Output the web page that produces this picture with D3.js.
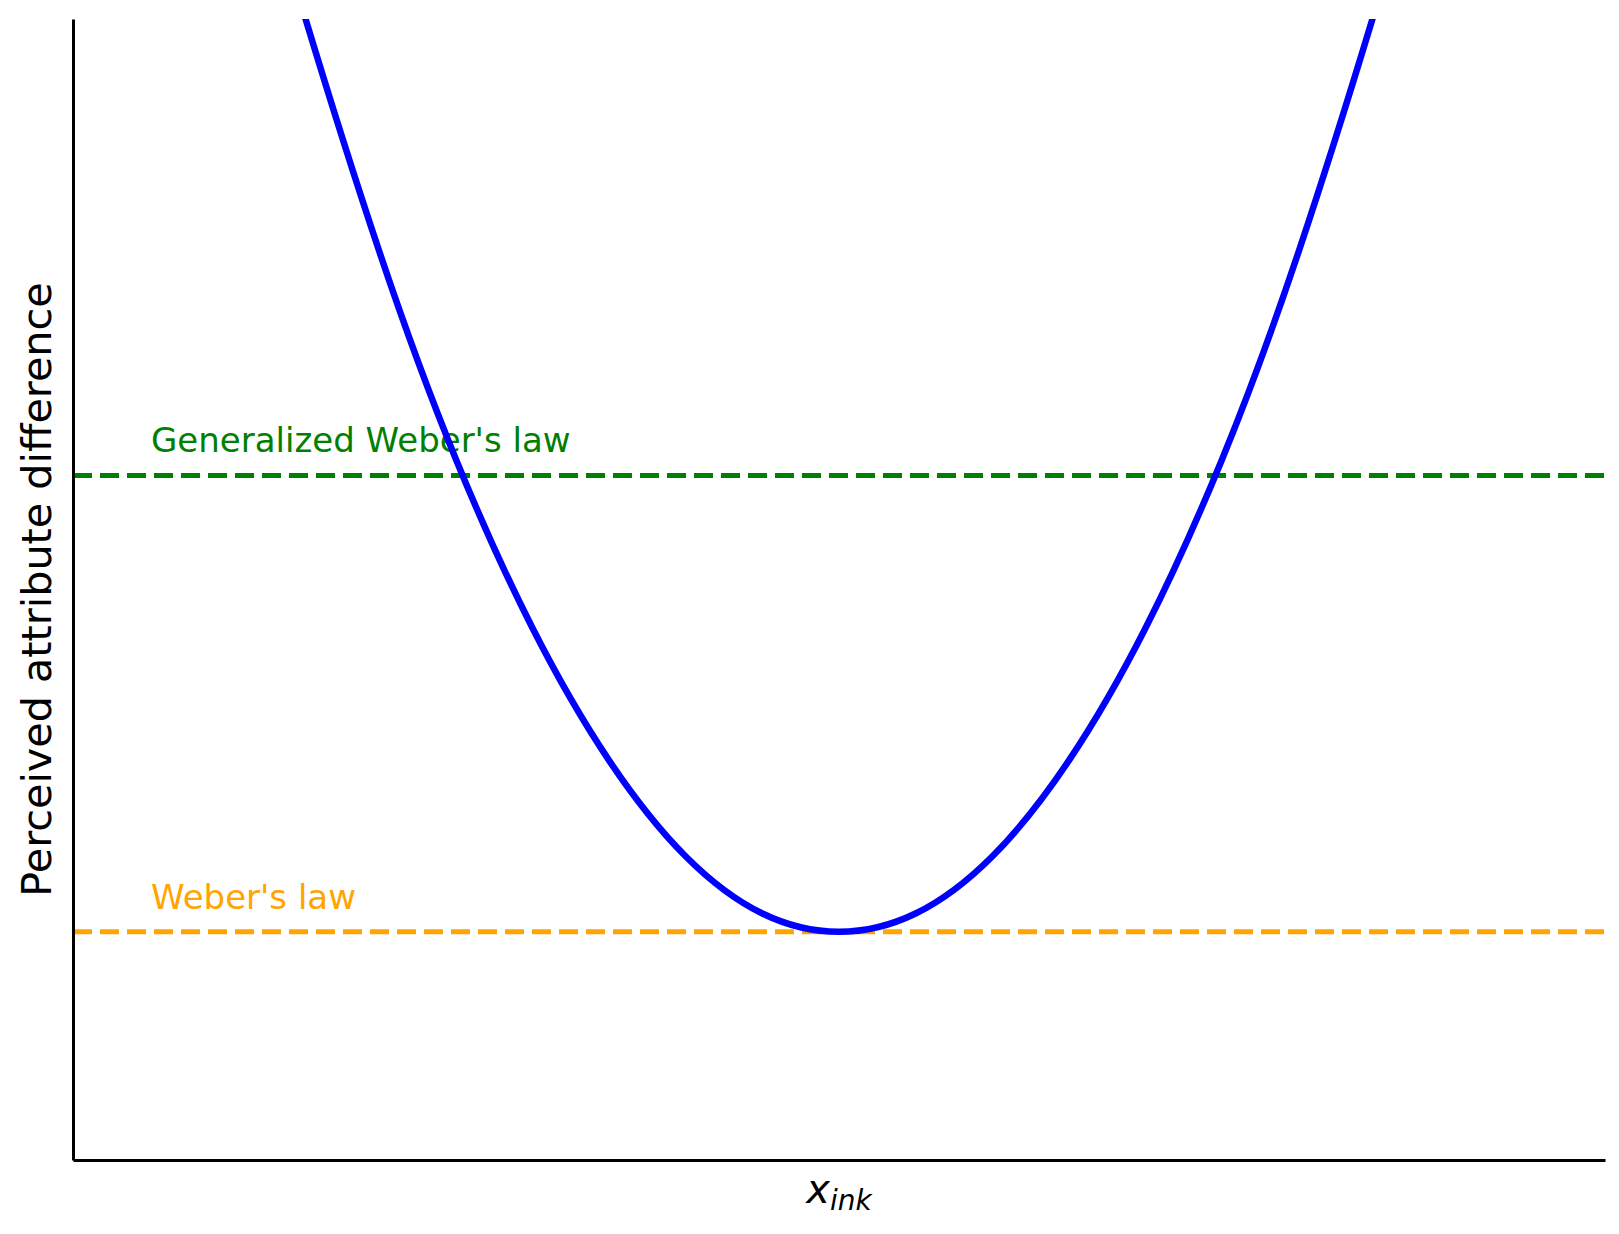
<!DOCTYPE html>
<html>
<head>
<meta charset="utf-8">
<script src="https://cdn.jsdelivr.net/npm/d3@7"></script>
<style>
  body { margin: 0; background: #fff; }
  text { font-family: "DejaVu Sans", sans-serif; }
</style>
</head>
<body>
<svg></svg>
<script>
// curve (x in 0..10, y in 0..5)
let curveX = [ 1.25, 1.5, 2, 2.5, 3, 3.5, 4, 4.5, 5, 5.5, 6, 6.5, 7, 7.5, 8, 8.5, 8.75 ]
let curveY = [ 5.62, 5.04, 3.98, 3.07, 2.33, 1.75, 1.33, 1.08, 1.00, 1.08, 1.33, 1.75, 2.33, 3.07, 3.98, 5.04, 5.62 ]

let refNames = [ 'Generalized Weber\'s law', 'Weber\'s law' ]
let refValues = [ 3, 1 ]
let refColors = [ 'green', 'orange' ]

let width = 1619
let height = 1234

const xScale =
d3.scaleLinear()
  .domain( [ 0, 10 ] )
  .range( [ 73, 1605 ] )

const yScale =
d3.scaleLinear()
  .domain( [ 0, 5 ] )
  .range( [ 1160, 19 ] )

let chart =
d3.select( 'svg' )
  .attr( 'width', width )
  .attr( 'height', height )

chart.append( 'clipPath' )
  .attr( 'id', 'plot' )
  .append( 'rect' )
  .attr( 'x', xScale( 0 ) )
  .attr( 'y', yScale( 5 ) )
  .attr( 'width', xScale( 10 ) - xScale( 0 ) )
  .attr( 'height', yScale( 0 ) - yScale( 5 ) )

// reference lines
chart.selectAll( 'line.ref' )
  .data( refValues )
  .enter()
  .append( 'line' )
  .attr( 'class', 'ref' )
  .attr( 'x1', xScale( 0 ) )
  .attr( 'x2', xScale( 10 ) )
  .attr( 'y1', d => yScale( d ) )
  .attr( 'y2', d => yScale( d ) )
  .attr( 'stroke', ( d, i ) => refColors[ i ] )
  .attr( 'stroke-width', 5 )
  .attr( 'stroke-dasharray', '19,8' )

chart.selectAll( 'text.ref' )
  .data( refValues )
  .enter()
  .append( 'text' )
  .attr( 'class', 'ref' )
  .attr( 'x', 151 )
  .attr( 'y', d => yScale( d ) - 23 )
  .attr( 'fill', ( d, i ) => refColors[ i ] )
  .attr( 'font-size', 34 )
  .text( ( d, i ) => refNames[ i ] )

// the curve
let line =
d3.line()
  .x( d => xScale( d[ 0 ] ) )
  .y( d => yScale( d[ 1 ] ) )
  .curve( d3.curveNatural )

chart.append( 'path' )
  .datum( curveX.map( ( x, i ) => [ x, curveY[ i ] ] ) )
  .attr( 'clip-path', 'url(#plot)' )
  .attr( 'fill', 'none' )
  .attr( 'stroke', 'blue' )
  .attr( 'stroke-width', 6.5 )
  .attr( 'd', line )

// axes, spines only
chart.append( 'g' )
  .attr( 'transform', `translate(0,${ yScale( 0 ) })` )
  .call( d3.axisBottom( xScale ).ticks( 0 ).tickSizeOuter( 0 ) )
  .select( '.domain' )
  .attr( 'stroke', '#000' )
  .attr( 'stroke-width', 3 )

chart.append( 'g' )
  .attr( 'transform', `translate(${ xScale( 0 ) },0)` )
  .call( d3.axisLeft( yScale ).ticks( 0 ).tickSizeOuter( 0 ) )
  .select( '.domain' )
  .attr( 'stroke', '#000' )
  .attr( 'stroke-width', 3 )

// labels
let xLabel =
chart.append( 'text' )
  .attr( 'x', xScale( 5 ) )
  .attr( 'y', 1203 )
  .attr( 'text-anchor', 'middle' )
  .attr( 'font-size', 40 )
  .attr( 'font-style', 'italic' )

xLabel.append( 'tspan' ).text( 'x' )
xLabel.append( 'tspan' )
  .attr( 'dy', 7 )
  .attr( 'font-size', 28 )
  .text( 'ink' )

chart.append( 'text' )
  .attr( 'transform', `translate(51,${ ( yScale( 0 ) + yScale( 5 ) ) / 2 }) rotate(-90)` )
  .attr( 'text-anchor', 'middle' )
  .attr( 'font-size', 41.3 )
  .text( 'Perceived attribute difference' )
</script>
</body>
</html>
